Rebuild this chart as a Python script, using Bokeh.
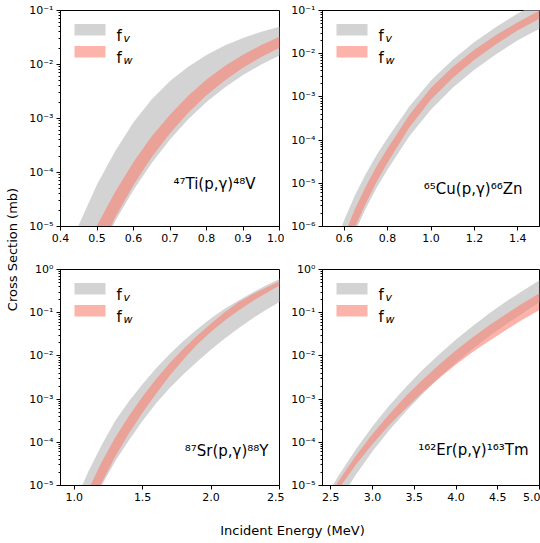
import numpy as np
from math import pi
from bokeh.plotting import figure
from bokeh.layouts import row, column
from bokeh.models import (Range1d, FixedTicker, LogTicker, CustomJSTickFormatter,
                          PrintfTickFormatter, Label, BoxAnnotation)
from bokeh.embed import file_html
from bokeh.resources import INLINE

FONT = "DejaVu Sans"

# ---------------- data (log10 of cross section in mb) ----------------
# 47Ti(p,g)48V
tl_x = [0.42, 0.45, 0.50, 0.55, 0.60, 0.65, 0.70, 0.75, 0.80, 0.85, 0.90, 0.95, 1.00]
tl_fv_hi = [-5.48, -4.97, -4.22, -3.60, -3.07, -2.645, -2.305, -2.04, -1.825, -1.65, -1.51, -1.395, -1.30]
tl_fv_lo = [-6.60, -6.30, -5.60, -4.90, -4.325, -3.825, -3.39, -3.015, -2.695, -2.425, -2.195, -2.00, -1.835]
tl_fw_hi = [-6.00, -5.62, -4.98, -4.355, -3.805, -3.33, -2.93, -2.58, -2.28, -2.03, -1.82, -1.64, -1.485]
tl_fw_lo = [-6.50, -6.20, -5.55, -4.83, -4.23, -3.715, -3.275, -2.895, -2.57, -2.295, -2.06, -1.86, -1.69]
tl_xticks = [0.4, 0.5, 0.6, 0.7, 0.8, 0.9, 1.0]

# 65Cu(p,g)66Zn
tr_x = [0.55, 0.60, 0.65, 0.70, 0.75, 0.80, 0.90, 1.00, 1.10, 1.20, 1.30, 1.40, 1.50]
tr_fv_hi = [-6.55, -5.85, -5.27, -4.78, -4.34, -3.95, -3.22, -2.62, -2.14, -1.73, -1.38, -1.07, -0.80]
tr_fv_lo = [-7.50, -6.75, -6.12, -5.58, -5.10, -4.68, -3.91, -3.29, -2.79, -2.37, -2.01, -1.69, -1.42]
tr_fw_hi = [-6.93, -6.20, -5.59, -5.07, -4.60, -4.19, -3.42, -2.79, -2.31, -1.91, -1.57, -1.27, -1.00]
tr_fw_lo = [-7.40, -6.65, -6.01, -5.46, -4.96, -4.52, -3.71, -3.06, -2.56, -2.14, -1.78, -1.46, -1.19]
tr_xticks = [0.6, 0.8, 1.0, 1.2, 1.4]

# 87Sr(p,g)88Y
bl_x = [1.0, 1.1, 1.2, 1.3, 1.4, 1.5, 1.6, 1.7, 1.8, 1.9, 2.0, 2.1, 2.2, 2.3, 2.4, 2.5]
bl_fv_hi = [-5.42, -4.70, -4.07, -3.50, -3.05, -2.65, -2.28, -1.95, -1.65, -1.38, -1.13, -0.91, -0.72, -0.54, -0.37, -0.22]
bl_fv_lo = [-6.36, -5.63, -5.00, -4.44, -3.95, -3.50, -3.09, -2.74, -2.42, -2.13, -1.85, -1.60, -1.36, -1.14, -0.94, -0.75]
bl_fw_hi = [-5.87, -5.12, -4.46, -3.89, -3.39, -2.94, -2.53, -2.16, -1.83, -1.53, -1.25, -0.99, -0.76, -0.58, -0.42, -0.27]
bl_fw_lo = [-6.41, -5.62, -4.94, -4.33, -3.79, -3.31, -2.87, -2.45, -2.08, -1.73, -1.44, -1.18, -0.95, -0.74, -0.55, -0.37]
bl_xticks = [1.0, 1.5, 2.0, 2.5]

# 162Er(p,g)163Tm
br_x = [2.5, 2.6, 2.8, 3.0, 3.2, 3.4, 3.6, 3.8, 4.0, 4.2, 4.4, 4.6, 4.8, 5.0]
br_fv_hi = [-5.07, -4.75, -4.16, -3.63, -3.15, -2.72, -2.32, -1.96, -1.62, -1.31, -1.01, -0.74, -0.49, -0.25]
br_fv_lo = [-5.67, -5.35, -4.75, -4.21, -3.72, -3.28, -2.88, -2.50, -2.16, -1.84, -1.54, -1.27, -1.01, -0.76]
br_fw_hi = [-5.18, -4.88, -4.31, -3.81, -3.35, -2.93, -2.55, -2.20, -1.87, -1.57, -1.29, -1.03, -0.78, -0.55]
br_fw_lo = [-5.35, -5.06, -4.52, -4.04, -3.60, -3.21, -2.84, -2.51, -2.20, -1.91, -1.65, -1.40, -1.16, -0.94]
br_xticks = [2.5, 3.0, 3.5, 4.0, 4.5, 5.0]

reactions = ["\u2074\u2077Ti(p,\u03b3)\u2074\u2078V",
             "\u2076\u2075Cu(p,\u03b3)\u2076\u2076Zn",
             "\u2078\u2077Sr(p,\u03b3)\u2078\u2078Y",
             "\u00b9\u2076\u00b2Er(p,\u03b3)\u00b9\u2076\u00b3Tm"]
series_names = [("f", "v"), ("f", "w")]
x_label = "Incident Energy (MeV)"
y_label = "Cross Section (mb)"

GRAY = "#d3d3d3"
SALMON = "salmon"

ylog_fmt = CustomJSTickFormatter(code="""
const sup = {'-':'\u207b','0':'\u2070','1':'\u00b9','2':'\u00b2','3':'\u00b3','4':'\u2074',
             '5':'\u2075','6':'\u2076','7':'\u2077','8':'\u2078','9':'\u2079'};
const e = Math.round(Math.log10(tick));
return '10' + String(e).split('').map(c => sup[c]).join('');
""")


def panel(x, fv_lo, fv_hi, fw_lo, fw_hi, xr, yr, xticks, reaction, width, height,
          bl, br, bt, bb, fw, fh, rx, ry):
    p = figure(width=width, height=height, x_range=Range1d(*xr), y_range=Range1d(*yr),
               y_axis_type="log", output_backend="svg", toolbar_location=None,
               min_border_left=bl, min_border_right=br, min_border_top=bt, min_border_bottom=bb)
    p.grid.visible = False
    p.outline_line_color = "black"
    p.outline_line_width = 1
    p.outline_line_alpha = 1
    p.background_fill_color = "white"
    p.border_fill_color = "white"
    xa = np.array(x)
    p.varea(x=xa, y1=10 ** np.array(fv_lo), y2=10 ** np.array(fv_hi),
            fill_color=GRAY, fill_alpha=1.0)
    p.varea(x=xa, y1=10 ** np.array(fw_lo), y2=10 ** np.array(fw_hi),
            fill_color=SALMON, fill_alpha=0.6)
    p.xaxis.ticker = FixedTicker(ticks=xticks)
    p.xaxis.formatter = PrintfTickFormatter(format="%.1f")
    p.yaxis.ticker = LogTicker(num_minor_ticks=10)
    p.yaxis.formatter = ylog_fmt
    for ax in (p.xaxis[0], p.yaxis[0]):
        ax.axis_line_color = "black"
        ax.major_tick_line_color = "black"
        ax.minor_tick_line_color = "black"
        ax.major_tick_in = 0
        ax.major_tick_out = 4
        ax.minor_tick_in = 0
        ax.minor_tick_out = 2
        ax.major_label_text_font = FONT
        ax.major_label_text_font_size = "11px"
        ax.major_label_text_color = "black"
        ax.major_label_standoff = 3
    p.xaxis.minor_tick_line_color = None
    # legend drawn by hand so subscripts can be shown
    p.add_layout(BoxAnnotation(left=14, right=45, top=fh - 13.5, bottom=fh - 25,
                               left_units="screen", right_units="screen",
                               top_units="screen", bottom_units="screen",
                               fill_color=GRAY, fill_alpha=1.0, line_color=None))
    p.add_layout(BoxAnnotation(left=14, right=45, top=fh - 35.5, bottom=fh - 47,
                               left_units="screen", right_units="screen",
                               top_units="screen", bottom_units="screen",
                               fill_color=SALMON, fill_alpha=0.6, line_color=None))
    for i, (base, sub) in enumerate(series_names):
        yb = fh - 25 - 22 * i
        p.add_layout(Label(x=56, y=yb, x_units="screen", y_units="screen", text=base,
                           text_font=FONT, text_font_size="15px", text_color="black",
                           text_baseline="alphabetic"))
        p.add_layout(Label(x=63, y=yb - 3, x_units="screen", y_units="screen", text=sub,
                           text_font=FONT, text_font_size="11px", text_font_style="italic",
                           text_color="black", text_baseline="alphabetic"))
    p.add_layout(Label(x=rx, y=ry, x_units="screen", y_units="screen", text=reaction,
                       text_font=FONT, text_font_size="15px", text_color="black",
                       text_align="right", text_baseline="middle"))
    return p


FW_L, FW_R, FH = 219, 217, 216
tl = panel(tl_x, tl_fv_lo, tl_fv_hi, tl_fw_lo, tl_fw_hi, (0.4, 1.0), (1e-5, 1e-1), tl_xticks,
           reactions[0], 262, 259, 38, 5, 10, 33, FW_L, FH, 195, 43)
tr = panel(tr_x, tr_fv_lo, tr_fv_hi, tr_fw_lo, tr_fw_hi, (0.5, 1.5), (1e-6, 1e-1), tr_xticks,
           reactions[1], 256, 259, 38, 1, 10, 33, FW_R, FH, 200, 38)
bl = panel(bl_x, bl_fv_lo, bl_fv_hi, bl_fw_lo, bl_fw_hi, (0.9, 2.5), (1e-5, 1e0), bl_xticks,
           reactions[2], 262, 250, 38, 5, 10, 24, FW_L, FH, 208, 35)
br = panel(br_x, br_fv_lo, br_fv_hi, br_fw_lo, br_fw_hi, (2.4, 5.0), (1e-5, 1e0), br_xticks,
           reactions[3], 256, 250, 38, 1, 10, 24, FW_R, FH, 206, 36)


def text_fig(w, h, txt, x, y, angle):
    f = figure(width=w, height=h, x_range=Range1d(0, 1), y_range=Range1d(0, 1),
               x_axis_type=None, y_axis_type=None, output_backend="svg",
               toolbar_location=None, min_border=0, outline_line_color=None)
    f.grid.visible = False
    f.add_layout(Label(x=x, y=y, x_units="screen", y_units="screen", text=txt, angle=angle,
                       text_font=FONT, text_font_size="13px", text_color="black",
                       text_align="center", text_baseline="middle"))
    return f


ylab = text_fig(22, 509, y_label, 12, 260, pi / 2)
xlab = text_fig(540, 34, x_label, 292, 13, 0)

layout = column(row(ylab, column(row(tl, tr), row(bl, br))), xlab)

with open("out.html", "w") as fh:
    fh.write(file_html(layout, INLINE))
